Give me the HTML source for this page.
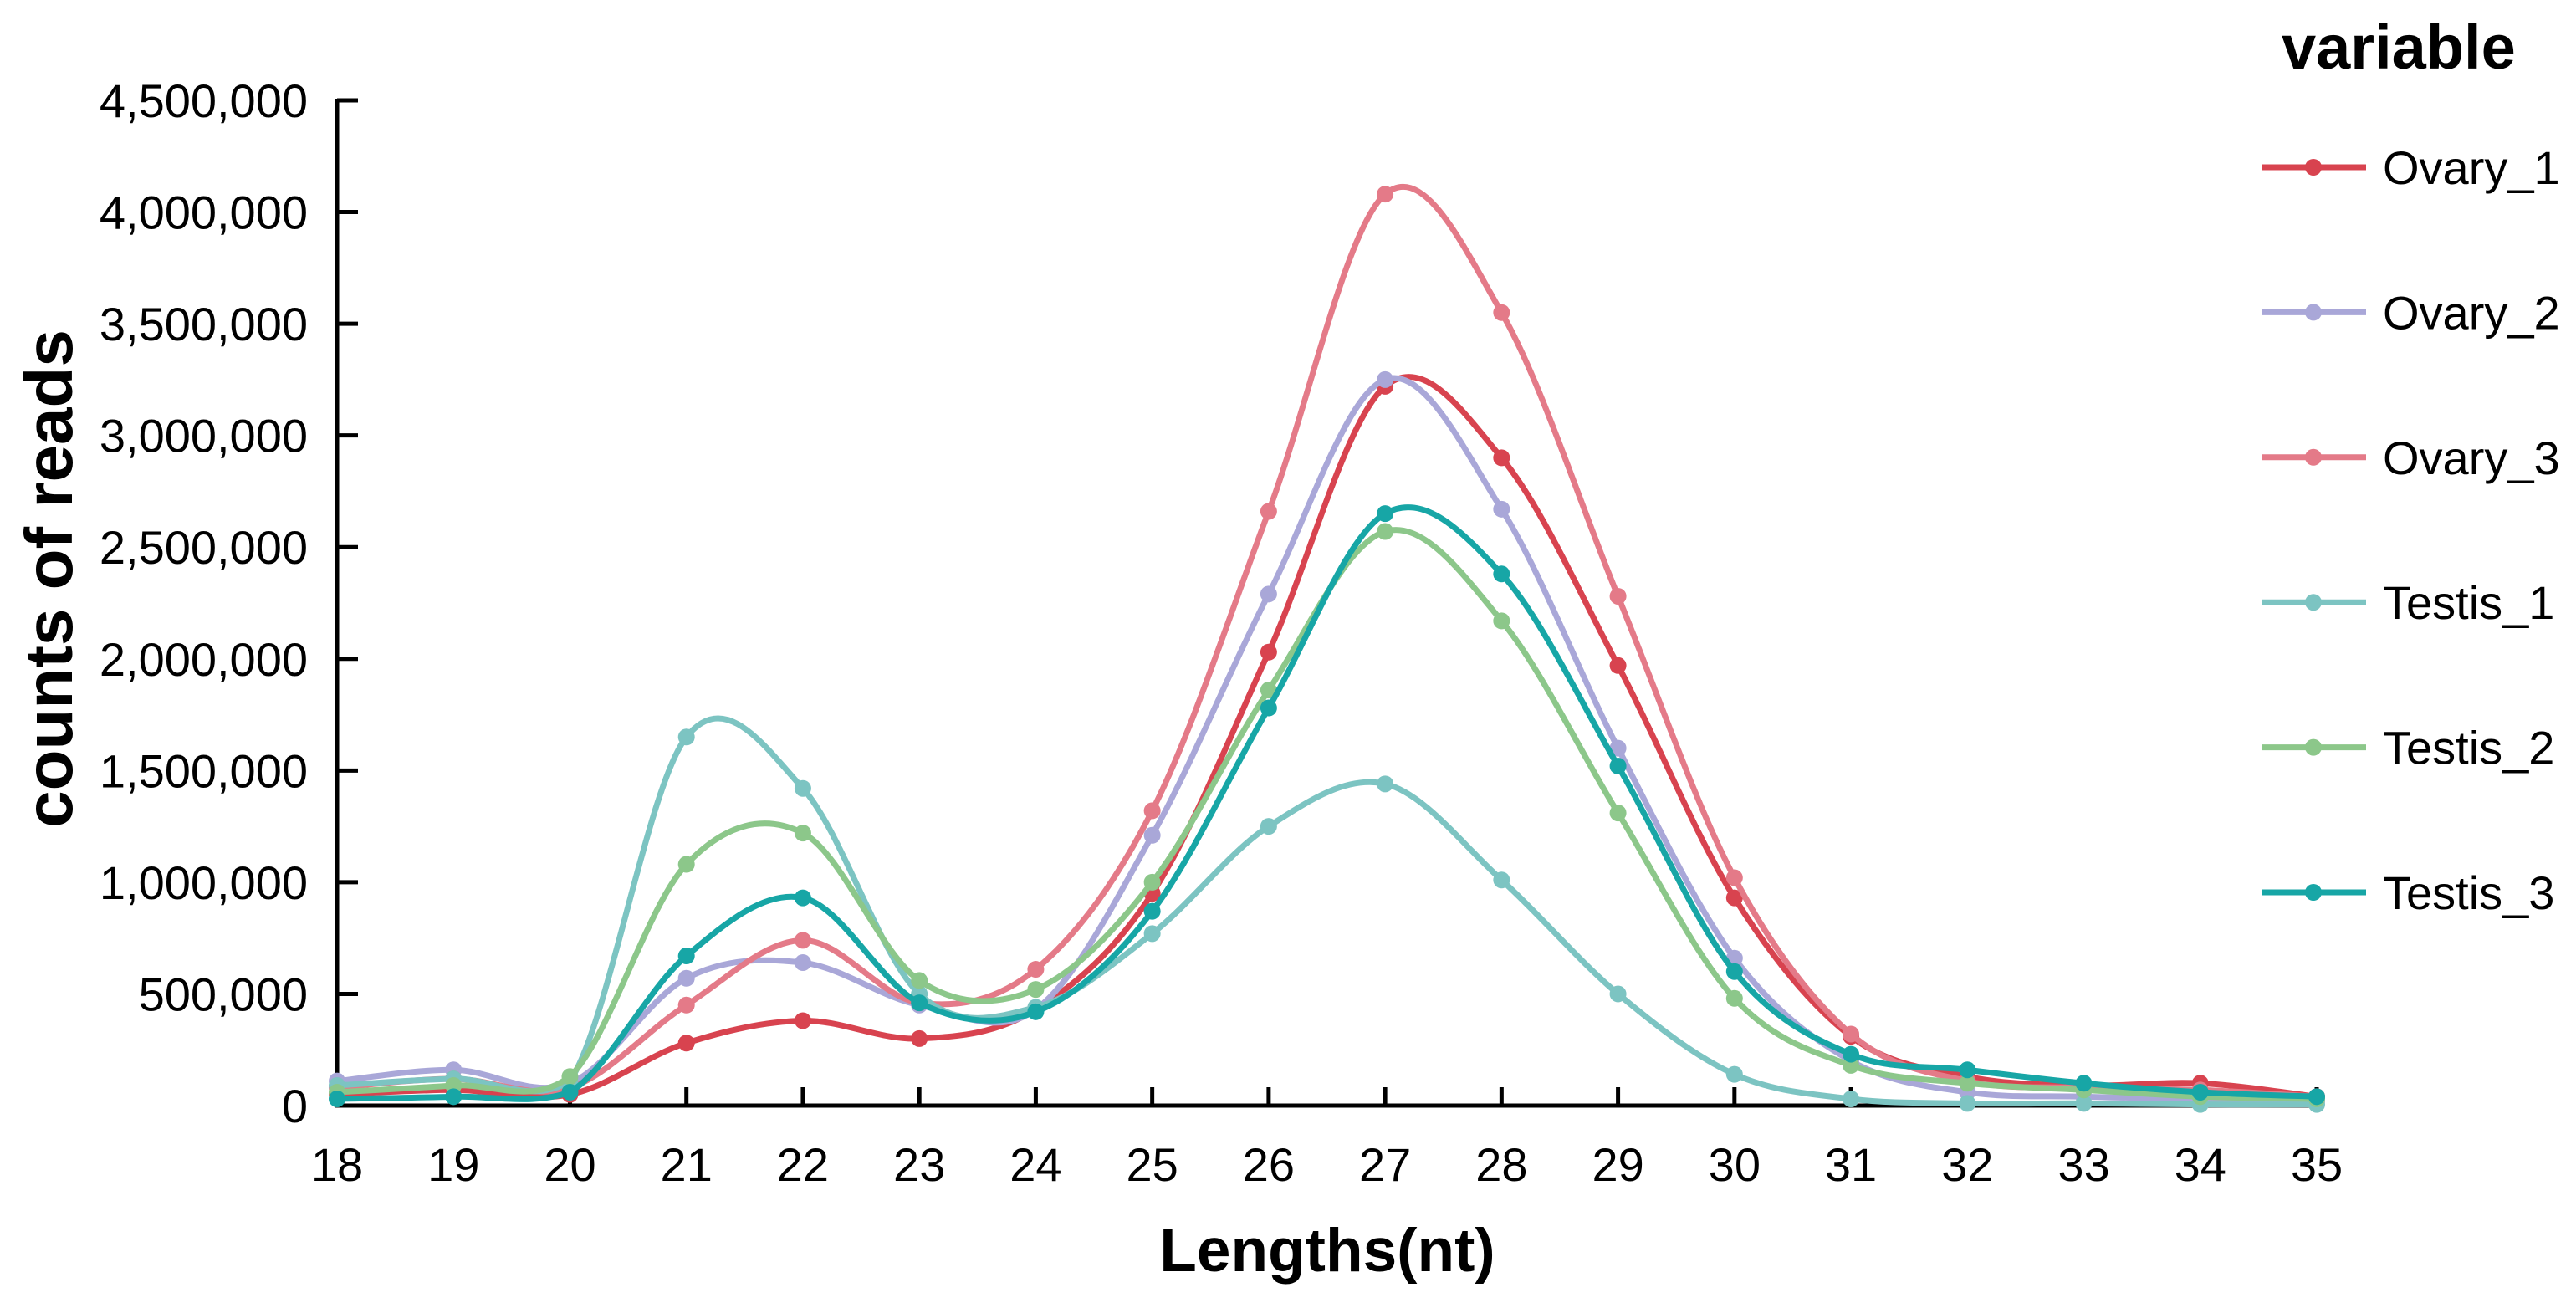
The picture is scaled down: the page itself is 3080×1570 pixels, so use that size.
<!DOCTYPE html>
<html><head><meta charset="utf-8"><style>
html,body{margin:0;padding:0;background:#fff;}
svg{display:block;font-family:"Liberation Sans",Arial,sans-serif;}
</style></head><body>
<svg id="chart" width="3080" height="1570" viewBox="0 0 3080 1570" xmlns="http://www.w3.org/2000/svg">
<g id="axes"></g>
<g id="series"></g>
<g id="legend"></g>
<text x="0" y="0" transform="translate(86,692) rotate(-90)" text-anchor="middle" font-weight="bold" font-size="80">counts of reads</text>
<text x="1587" y="1520" text-anchor="middle" font-weight="bold" font-size="73">Lengths(nt)</text>
<text x="2728" y="82" font-weight="bold" font-size="74">variable</text>
</svg>
<script>
const categories = [18,19,20,21,22,23,24,25,26,27,28,29,30,31,32,33,34,35];
const yTicks = [0,500000,1000000,1500000,2000000,2500000,3000000,3500000,4000000,4500000];
const seriesNames = ["Ovary_1","Ovary_2","Ovary_3","Testis_1","Testis_2","Testis_3"];
const seriesColors = ["#d8434f","#a9a7d8","#e47a88","#7cc4c2","#8cc78a","#17a6a6"];
const ovary1 = [50000,70000,50000,280000,380000,300000,430000,950000,2030000,3220000,2900000,1970000,930000,310000,130000,90000,100000,40000];
const ovary2 = [110000,160000,100000,570000,640000,450000,430000,1210000,2290000,3250000,2670000,1600000,660000,200000,60000,40000,30000,20000];
const ovary3 = [80000,120000,80000,450000,740000,460000,610000,1320000,2660000,4080000,3550000,2280000,1020000,320000,110000,80000,70000,40000];
const testis1 = [90000,120000,110000,1650000,1420000,500000,440000,770000,1250000,1440000,1010000,500000,140000,30000,10000,10000,5000,5000];
const testis2 = [60000,90000,130000,1080000,1220000,560000,520000,1000000,1860000,2570000,2170000,1310000,480000,180000,100000,70000,40000,30000];
const testis3 = [30000,40000,60000,670000,930000,460000,420000,870000,1780000,2650000,2380000,1520000,600000,230000,160000,100000,60000,40000];
const seriesValues = [ovary1,ovary2,ovary3,testis1,testis2,testis3];

const NS="http://www.w3.org/2000/svg";
const X0=403,X1=2770,Y0=1322,Y1=120;
function xS(v){return X0+(v-categories[0])/(categories[categories.length-1]-categories[0])*(X1-X0);}
function yS(v){return Y0-(v/4500000)*(Y0-Y1);}
function mk(tag,attrs,parent){const e=document.createElementNS(NS,tag);for(const k in attrs)e.setAttribute(k,attrs[k]);parent.appendChild(e);return e;}
const axes=document.getElementById('axes');
let yl=mk('line',{x1:X0,y1:Y1-2,x2:X0,y2:Y0+2,stroke:'#000','stroke-width':5},axes);


let xl=mk('line',{x1:X0-2,y1:Y0,x2:X1+2,y2:Y0,stroke:'#000','stroke-width':5},axes);


yTicks.forEach(t=>{
  const y=yS(t);
  const tk=mk('line',{x1:X0,y1:y,x2:X0+25,y2:y,stroke:'#000','stroke-width':5},axes);
  
  
  const tx=mk('text',{x:368,y:y+20,'text-anchor':'end','font-size':56},axes);
  tx.textContent=t.toLocaleString('en-US');
  
  
});
categories.forEach(c=>{
  const x=xS(c);
  const tk=mk('line',{x1:x,y1:Y0,x2:x,y2:Y0-22,stroke:'#000','stroke-width':5},axes);
  
  
  const tx=mk('text',{x:x,y:1412,'text-anchor':'middle','font-size':56},axes);
  tx.textContent=c;
  
  
});
function spline(pts){
  let d='M'+pts[0][0]+','+pts[0][1];
  for(let i=0;i<pts.length-1;i++){
    const p0=pts[i-1]||pts[i],p1=pts[i],p2=pts[i+1],p3=pts[i+2]||p2;
    const c1=[p1[0]+(p2[0]-p0[0])/6,p1[1]+(p2[1]-p0[1])/6];
    const c2=[p2[0]-(p3[0]-p1[0])/6,p2[1]-(p3[1]-p1[1])/6];
    d+=' C'+c1[0]+','+Math.min(c1[1],Y0)+' '+c2[0]+','+Math.min(c2[1],Y0)+' '+p2[0]+','+p2[1];
  }
  return d;
}
const sg=document.getElementById('series');
const lg=document.getElementById('legend');
seriesValues.forEach((vals,si)=>{
  const g=mk('g',{},sg);
  
  
  const pts=vals.map((v,i)=>[xS(categories[i]),yS(v)]);
  const p=mk('path',{d:spline(pts),fill:'none',stroke:seriesColors[si],'stroke-width':7},g);
  
  
  pts.forEach(pt=>{
    const c=mk('circle',{cx:pt[0],cy:pt[1],r:10,fill:seriesColors[si]},g);
    
    
  });
  const ly=200+si*173.4;
  const le=mk('g',{},lg);
  
  
  mk('line',{x1:2704,y1:ly,x2:2829,y2:ly,stroke:seriesColors[si],'stroke-width':7},le);
  mk('circle',{cx:2766,cy:ly,r:10,fill:seriesColors[si]},le);
  const t=mk('text',{x:2849,y:ly+20,'font-size':56},le);
  t.textContent=seriesNames[si];
});
</script>
</body></html>
